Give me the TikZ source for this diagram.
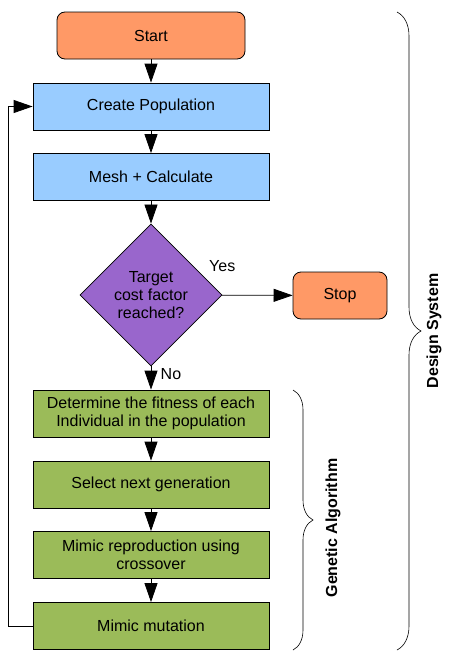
\documentclass[tikz,border=0pt]{standalone}
\usepackage{fontspec}
\setmainfont{Liberation Sans}
\usetikzlibrary{shapes.geometric,arrows.meta,decorations.pathreplacing}
\definecolor{termorange}{HTML}{FF9966}
\definecolor{stepblue}{HTML}{99CCFF}
\definecolor{testpurple}{HTML}{9966CC}
\definecolor{gagreen}{HTML}{9BBB59}
\tikzset{
  box/.style={draw,line width=0.8pt,minimum width=236pt,minimum height=47pt,inner sep=0pt,align=center},
  term/.style={box,fill=termorange,rounded corners=8pt},
  flow/.style={line width=0.8pt,-{Triangle[width=13pt,length=19pt]}},
  bracket/.style={decorate,decoration={brace,amplitude=24pt},line width=0.6pt}
}
\begin{document}
\begin{tikzpicture}[x=1pt,y=-1pt,font=\fontsize{16}{18}\selectfont]
\useasboundingbox(0,0)rectangle(454,672);
\node[term,minimum width=188pt](start)at(151,35.5){Start};
\node[box,fill=stepblue](create)at(151,106.5){Create Population};
\node[box,fill=stepblue](mesh)at(151,177){Mesh + Calculate};
\node[draw,line width=0.8pt,diamond,aspect=1,minimum width=142pt,minimum height=142pt,inner sep=0pt,fill=testpurple,align=center](target)at(151,295){Target\\cost factor\\reached?};
\node[term,minimum width=94pt](stop)at(340,295.5){Stop};
\node[box,fill=gagreen](fitness)at(151,413.5){Determine the fitness of each\\Individual in the population};
\node[box,fill=gagreen](select)at(151,484.5){Select next generation};
\node[box,fill=gagreen](crossover)at(151,555){Mimic reproduction using\\crossover};
\node[box,fill=gagreen](mutation)at(151,626){Mimic mutation};
\draw[flow](start)--(create);
\draw[flow](create)--(mesh);
\draw[flow](mesh)--(target);
\draw[flow](target)--node[pos=0,above,yshift=20pt](yes){Yes}(stop);
\draw[flow](target)--node[pos=0.35,right,xshift=6pt](no){No}(fitness);
\draw[flow](fitness)--(select);
\draw[flow](select)--(crossover);
\draw[flow](crossover)--(mutation);
\draw[flow](mutation.west)--++(-24,0)|-(create.west);
% braces
\draw[bracket,decoration={amplitude=20pt}](293,390)--(293,650);
\node[rotate=90,font=\fontsize{16}{18}\selectfont\bfseries](ga)at(333,528){Genetic Algorithm};
\draw[bracket](397,12)--(397,650);
\node[rotate=90,font=\fontsize{16}{18}\selectfont\bfseries](ds)at(434,331){Design System};
\end{tikzpicture}
\end{document}
